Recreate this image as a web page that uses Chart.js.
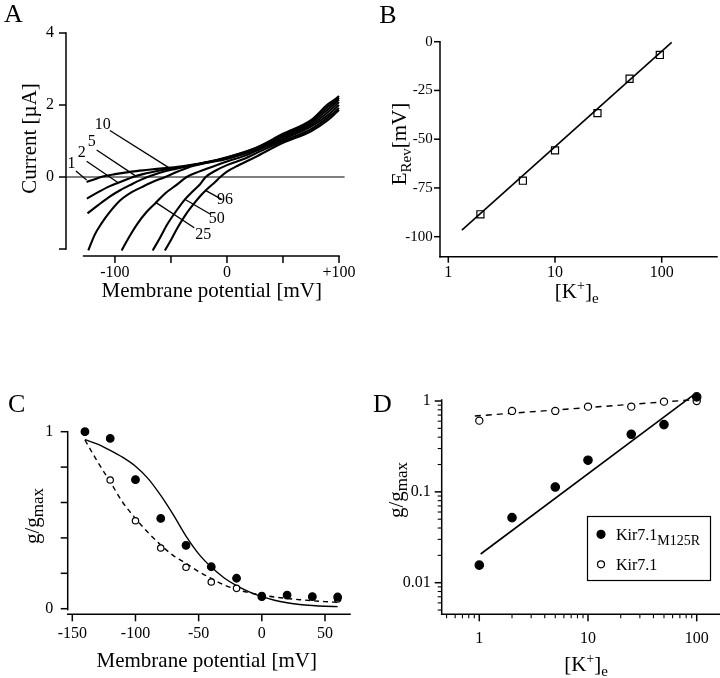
<!DOCTYPE html>
<html>
<head>
<meta charset="utf-8">
<script src="https://cdn.jsdelivr.net/npm/chart.js@4.4.1/dist/chart.umd.min.js"></script>
<style>
  html, body { margin: 0; background: #fff; }
  #figure { position: relative; width: 720px; height: 678px; }
  #figure canvas { position: absolute; left: 0; top: 0; }
</style>
</head>
<body>
<div id="figure">
  <canvas id="panelA" width="720" height="678"></canvas>
  <canvas id="panelB" width="720" height="678"></canvas>
  <canvas id="panelC" width="720" height="678"></canvas>
  <canvas id="panelD" width="720" height="678"></canvas>
</div>
<script>
// ---- A: I-V curves, one per [K+]e (mM) ----
const ivLabels = ["1", "2", "5", "10", "25", "50", "96"];
const ivV1 = [-125.3, -118, -110, -100, -85, -70, -55, -40, -20, 0, 25, 50, 75, 90, 100, 104];
const ivI1 = [-0.14, -0.06, 0.02, 0.08, 0.15, 0.2, 0.25, 0.3, 0.4, 0.55, 0.8, 1.2, 1.58, 2.02, 2.25, 2.42];
const ivV2 = [-125, -115, -105, -97, -88, -84, -75, -60, -45, -30, -15, 0, 25, 50, 75, 90, 100, 104];
const ivI2 = [-0.6, -0.42, -0.26, -0.16, -0.05, 0, 0.08, 0.18, 0.26, 0.33, 0.42, 0.54, 0.79, 1.17, 1.55, 1.95, 2.2, 2.36];
const ivV5 = [-124.5, -115, -105, -95, -85, -77, -71, -60, -50, -35, -20, 0, 25, 50, 75, 90, 100, 104];
const ivI5 = [-1.01, -0.78, -0.55, -0.36, -0.2, -0.08, 0, 0.12, 0.2, 0.3, 0.4, 0.52, 0.77, 1.14, 1.5, 1.88, 2.15, 2.3];
const ivV10 = [-123.8, -118, -112, -104, -95, -85, -74, -65, -55, -45, -35, -20, 0, 25, 50, 75, 90, 100, 104];
const ivI10 = [-2.04, -1.6, -1.29, -0.95, -0.64, -0.42, -0.25, -0.12, 0, 0.14, 0.26, 0.38, 0.5, 0.75, 1.1, 1.45, 1.8, 2.08, 2.22];
const ivV25 = [-94, -88, -80, -72, -63, -55, -45, -36, -25, -10, 0, 15, 30, 50, 75, 90, 100, 104];
const ivI25 = [-2.04, -1.7, -1.3, -0.98, -0.7, -0.45, -0.22, 0, 0.15, 0.32, 0.43, 0.58, 0.78, 1.05, 1.4, 1.72, 2.0, 2.12];
const ivV50 = [-66.3, -60, -53, -45, -37.5, -30, -24, -19, -10, 0, 15, 30, 50, 75, 90, 100, 104];
const ivI50 = [-2.04, -1.7, -1.3, -0.93, -0.62, -0.38, -0.2, 0, 0.18, 0.33, 0.5, 0.72, 1.0, 1.33, 1.65, 1.92, 2.05];
const ivV96 = [-55.4, -50, -44, -37, -29.5, -23, -17.7, -12, -6, 0, 10, 25, 50, 75, 90, 100, 104];
const ivI96 = [-2.04, -1.75, -1.4, -1.05, -0.74, -0.5, -0.33, -0.18, 0, 0.15, 0.32, 0.55, 0.95, 1.27, 1.58, 1.86, 1.97];
// curve tags and their leader lines, in mV / µA
const tagV = [-138.7, -129.7, -120.8, -111, -21.2, -9.2, -1.8];
const tagI = [0.38, 0.675, 0.98, 1.44, -1.61, -1.15, -0.64];
const leadFromV = [-134.8, -125.3, -116.3, -104.5, -64.3, -38.1, -18.8];
const leadFromI = [0.17, 0.44, 0.75, 1.29, -0.69, -0.61, -0.38];
const leadToV = [-125.3, -97.1, -80.6, -50.9, -29.2, -14.3, -4.7];
const leadToI = [-0.08, -0.16, 0.01, 0.24, -1.41, -1.04, -0.62];

// ---- B: reversal potential vs [K+]e ----
const kRev = [2, 5, 10, 25, 50, 96];
const eRev = [-88.5, -71.3, -55.7, -36.6, -19.0, -6.8];
const eRevFitK = [1.34, 124];
const eRevFitE = [-96.6, -0.3];

// ---- C: g/gmax vs membrane potential ----
const vSteps = [-140, -120, -100, -80, -60, -40, -20, 0, 20, 40, 60];
const gMutantV = [1.0, 0.962, 0.729, 0.51, 0.358, 0.237, 0.172, 0.068, 0.077, 0.068, 0.066];
const gWildV = [1.0, 0.727, 0.497, 0.343, 0.234, 0.151, 0.115, 0.075, null, null, 0.055];
const fitV = [-140, -130, -120, -110, -100, -90, -80, -70, -60, -50, -40, -30, -20, -10, 0, 10, 20, 30, 40, 50, 60];
const fitMutantV = [0.955, 0.93, 0.895, 0.855, 0.805, 0.735, 0.64, 0.53, 0.41, 0.31, 0.235, 0.175, 0.13, 0.095, 0.068, 0.048, 0.034, 0.024, 0.018, 0.014, 0.012];
const fitWildV = [0.953, 0.83, 0.717, 0.6, 0.51, 0.43, 0.36, 0.3, 0.256, 0.21, 0.171, 0.135, 0.109, 0.09, 0.077, 0.066, 0.058, 0.051, 0.045, 0.04, 0.036];

// ---- D: g/gmax vs [K+]e ----
const kCond = [1, 2, 5, 10, 25, 50, 100];
const gMutantK = [0.0156, 0.052, 0.113, 0.223, 0.43, 0.55, 1.11];
const gWildK = [0.608, 0.778, 0.778, 0.867, 0.867, 0.984, 1.0];
const fitMutantK = [1.03, 93];
const fitMutantG = [0.0207, 1.164];
const fitWildK = [0.91, 100];
const fitWildG = [0.684, 1.04];

// tick values
const ticksAx = [-100, -50, 0, 50, 100];
const ticksAy = [-2, 0, 2, 4];
const ticksBy = [-100, -75, -50, -25, 0];
const ticksLog = [1, 10, 100];
const ticksCx = [-150, -100, -50, 0, 50];
const ticksCy = [0, 0.2, 0.4, 0.6, 0.8, 1];
const ticksDy = [0.01, 0.1, 1];
const minorDx = [0.5, 0.6, 0.7, 0.8, 0.9, 2, 3, 4, 5, 6, 7, 8, 9, 20, 30, 40, 50, 60, 70, 80, 90];
const minorDy = [0.005, 0.006, 0.007, 0.008, 0.009, 0.02, 0.03, 0.04, 0.05, 0.06, 0.07, 0.08, 0.09,
  0.2, 0.3, 0.4, 0.5, 0.6, 0.7, 0.8, 0.9];

const FONT = "'Liberation Serif', 'Times New Roman', serif";
const W = 720, H = 678;
const Y_AXIS_W = 50, X_AXIS_H = 40; // room kept for the tick labels

Chart.defaults.font.family = FONT;
Chart.defaults.font.size = 16;
Chart.defaults.color = "#000";

const xy = (xs, ys) => xs.map((x, i) => ({ x, y: ys[i] })).filter((p) => p.y != null);
const T = (text, size = 21, shift = 0) => ({ text, size, shift });

function line(xs, ys, extra) {
  return Object.assign({
    data: xy(xs, ys), showLine: true, borderColor: "#000", borderWidth: 1.5,
    pointRadius: 0, clip: false, cubicInterpolationMode: "monotone",
  }, extra);
}

function dots(xs, ys, filled, r) {
  return {
    data: xy(xs, ys), showLine: false, clip: false,
    pointRadius: r, pointBorderWidth: 1.2, pointBorderColor: "#000",
    pointBackgroundColor: filled ? "#000" : "#fff",
  };
}

function axis(type, min, max, ticks, labels, pad, size) {
  return {
    type, min, max, bounds: "data",
    grid: { display: false, drawTicks: false },
    border: { display: false },
    afterBuildTicks: (s) => { s.ticks = ticks.map((v) => ({ value: v })); },
    afterFit: (s) => {
      if (s.isHorizontal()) s.height = X_AXIS_H; else s.width = Y_AXIS_W;
      s.paddingLeft = s.paddingRight = s.paddingTop = s.paddingBottom = 0;
    },
    ticks: {
      autoSkip: false, maxRotation: 0, minRotation: 0, padding: pad,
      font: { size: size || 16 },
      callback: (v, i) => labels[i],
    },
  };
}

function richText(ctx, parts, x, y, vertical) {
  ctx.save();
  ctx.translate(x, y);
  if (vertical) ctx.rotate(-Math.PI / 2);
  ctx.textAlign = "left";
  ctx.textBaseline = "alphabetic";
  ctx.fillStyle = "#000";
  let width = 0;
  for (const p of parts) { ctx.font = `${p.size}px ${FONT}`; width += ctx.measureText(p.text).width; }
  let cx = -width / 2;
  for (const p of parts) {
    ctx.font = `${p.size}px ${FONT}`;
    ctx.fillText(p.text, cx, p.shift);
    cx += ctx.measureText(p.text).width;
  }
  ctx.restore();
}

// axis lines, tick marks, titles and panel letter for one panel
function decor(spec) {
  return {
    id: "decor",
    afterDraw(chart) {
      const { ctx, chartArea: a, scales: { x, y } } = chart;
      const seg = (x1, y1, x2, y2) => { ctx.beginPath(); ctx.moveTo(x1, y1); ctx.lineTo(x2, y2); ctx.stroke(); };
      ctx.save();
      ctx.strokeStyle = "#000";
      ctx.lineWidth = 1.5;
      ctx.lineCap = "square";
      const yr = spec.yLine || [y.min, y.max];
      const xr = spec.xLine || [x.min, x.max];
      seg(a.left, y.getPixelForValue(yr[0]), a.left, y.getPixelForValue(yr[1]));
      seg(x.getPixelForValue(xr[0]), a.bottom, x.getPixelForValue(xr[1]), a.bottom);
      ctx.lineCap = "butt";
      const len = spec.tick || 7;
      y.ticks.forEach((t) => { const p = y.getPixelForValue(t.value); seg(a.left - len, p, a.left, p); });
      x.ticks.forEach((t) => { const p = x.getPixelForValue(t.value); seg(p, a.bottom, p, a.bottom + len); });
      ctx.lineWidth = 1.1;
      (spec.minorY || []).forEach((v) => { const p = y.getPixelForValue(v); seg(a.left - 4, p, a.left, p); });
      (spec.minorX || []).forEach((v) => { const p = x.getPixelForValue(v); seg(p, a.bottom, p, a.bottom + 4); });

      richText(ctx, spec.xTitle.parts, spec.xTitle.at[0], spec.xTitle.at[1], false);
      richText(ctx, spec.yTitle.parts, spec.yTitle.at[0], spec.yTitle.at[1], true);
      richText(ctx, [T(spec.letter.text, 26)], spec.letter.at[0], spec.letter.at[1], false);

      ctx.fillStyle = "#000";
      ctx.font = `16px ${FONT}`;
      ctx.textAlign = "center";
      ctx.textBaseline = "middle";
      (spec.tags || []).forEach((t) => {
        ctx.fillText(t.text, x.getPixelForValue(t.x), y.getPixelForValue(t.y));
      });

      if (spec.legend) {
        const L = spec.legend;
        ctx.lineWidth = 1.2;
        ctx.strokeRect(L.box[0], L.box[1], L.box[2], L.box[3]);
        L.rows.forEach((r) => {
          ctx.beginPath();
          ctx.arc(r.dot[0], r.dot[1], r.filled ? 4 : 3.5, 0, Math.PI * 2);
          ctx.fillStyle = r.filled ? "#000" : "#fff";
          ctx.fill();
          ctx.stroke();
          ctx.fillStyle = "#000";
          ctx.textAlign = "left";
          ctx.textBaseline = "alphabetic";
          let tx = r.text[0];
          r.parts.forEach((p) => {
            ctx.font = `${p.size}px ${FONT}`;
            ctx.fillText(p.text, tx, r.text[1] + p.shift);
            tx += ctx.measureText(p.text).width;
          });
        });
      }
      ctx.restore();
    },
  };
}

// area = plot rectangle [left, top, right, bottom] in page pixels
function makePanel(id, area, scales, datasets, spec) {
  return new Chart(document.getElementById(id), {
    type: "scatter",
    data: { datasets },
    options: {
      responsive: false,
      animation: false,
      devicePixelRatio: 1,
      events: [],
      layout: {
        autoPadding: false,
        padding: {
          left: area[0] - Y_AXIS_W, top: area[1],
          right: W - area[2], bottom: H - area[3] - X_AXIS_H,
        },
      },
      scales,
      plugins: { legend: { display: false }, tooltip: { enabled: false } },
    },
    plugins: [decor(spec)],
  });
}

// ---- Panel A ----
const ivSeries = [[ivV1, ivI1], [ivV2, ivI2], [ivV5, ivI5], [ivV10, ivI10], [ivV25, ivI25], [ivV50, ivI50], [ivV96, ivI96]];
makePanel("panelA", [66, 33, 339, 256],
  {
    x: axis("linear", -143.7, 100, ticksAx, ["-100", "", "0", "", "+100"], 7),
    y: axis("linear", -2.194, 4, ticksAy, ["", "0", "2", "4"], 12),
  },
  [
    line([-143.7, 105], [0, 0], { borderWidth: 1.1, cubicInterpolationMode: "default" }),
    ...ivSeries.map(([v, i]) => line(v, i, { borderWidth: 2.1 })),
    ...ivLabels.map((_, k) => line([leadFromV[k], leadToV[k]], [leadFromI[k], leadToI[k]],
      { borderWidth: 1.3, cubicInterpolationMode: "default" })),
  ],
  {
    xLine: [-128, 100], yLine: [-2, 4],
    xTitle: { parts: [T("Membrane potential [mV]")], at: [211.7, 296.5] },
    yTitle: { parts: [T("Current [µA]")], at: [36, 138.5] },
    letter: { text: "A", at: [13.3, 21.7] },
    tags: ivLabels.map((t, k) => ({ text: t, x: tagV[k], y: tagI[k] })),
  });

// ---- Panel B ----
makePanel("panelB", [440, 41.7, 717, 256.7],
  {
    x: axis("logarithmic", 0.836, 329.8, ticksLog, ["1", "10", "100"], 6.3),
    y: axis("linear", -110.26, 0, ticksBy, ["-100", "-75", "-50", "-25", "0"], 7.3, 15),
  },
  [
    Object.assign(dots(kRev, eRev, false, 5), { pointStyle: "rect", pointBackgroundColor: "rgba(0,0,0,0)" }),
    line(eRevFitK, eRevFitE, { borderWidth: 1.6, cubicInterpolationMode: "default" }),
  ],
  {
    tick: 6,
    xTitle: { parts: [T("[K"), T("+", 14, -8), T("]"), T("e", 15, 5)], at: [576.7, 297.8] },
    yTitle: { parts: [T("E"), T("Rev", 15, 5), T("[mV]")], at: [405.5, 144] },
    letter: { text: "B", at: [388, 22.7] },
  });

// ---- Panel C ----
makePanel("panelC", [67.7, 431.7, 350, 614.3],
  {
    x: axis("linear", -153.64, 69.79, ticksCx, ["-150", "-100", "-50", "0", "50"], 10.2),
    y: axis("linear", -0.0316, 1, ticksCy, ["0", "", "", "", "", "1"], 14.4),
  },
  [
    dots(vSteps, gMutantV, true, 3.8),
    dots(vSteps, gWildV, false, 3.2),
    line(fitV, fitMutantV, { borderWidth: 1.4 }),
    line(fitV, fitWildV, { borderWidth: 1.4, borderDash: [5, 4] }),
  ],
  {
    yLine: [-0.005, 1],
    xTitle: { parts: [T("Membrane potential [mV]")], at: [206.7, 666.5] },
    yTitle: { parts: [T("g/g"), T("max", 17, 4)], at: [38.5, 516] },
    letter: { text: "C", at: [16.7, 411.7] },
  });

// ---- Panel D ----
makePanel("panelD", [441.7, 400, 720, 614.3],
  {
    x: axis("logarithmic", 0.451, 163.8, ticksLog, ["1", "10", "100"], 14.5),
    y: axis("logarithmic", 0.00449, 1.026, ticksDy, ["0.01", "0.1", "1"], 11),
  },
  [
    dots(kCond, gMutantK, true, 4.2),
    dots(kCond, gWildK, false, 3.6),
    line(fitMutantK, fitMutantG, { borderWidth: 1.6, cubicInterpolationMode: "default" }),
    line(fitWildK, fitWildG, { borderWidth: 1.4, borderDash: [6, 5], cubicInterpolationMode: "default" }),
  ],
  {
    minorX: minorDx, minorY: minorDy,
    xTitle: { parts: [T("[K"), T("+", 14, -8), T("]"), T("e", 15, 5)], at: [586, 671] },
    yTitle: { parts: [T("g/g"), T("max", 17, 4)], at: [403, 490] },
    letter: { text: "D", at: [382.5, 411.7] },
    legend: {
      box: [587.5, 516.5, 123, 64],
      rows: [
        { filled: true, dot: [601, 534.3], text: [616, 540], parts: [T("Kir7.1", 16), T("M125R", 14, 5)] },
        { filled: false, dot: [601, 564.3], text: [616, 570], parts: [T("Kir7.1", 16)] },
      ],
    },
  });
</script>
</body>
</html>
